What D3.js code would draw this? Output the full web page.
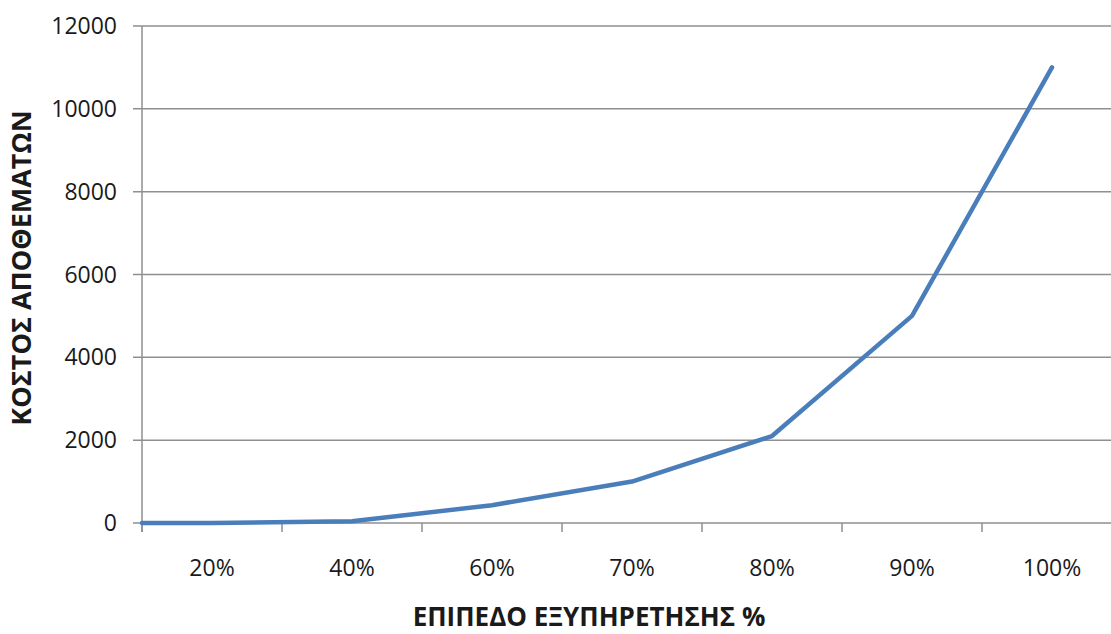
<!DOCTYPE html>
<html>
<head>
<meta charset="utf-8">
<script src="https://cdn.jsdelivr.net/npm/d3@7"></script>
<style>
  html, body { margin: 0; padding: 0; background: #fff; }
  svg { display: block; }
  text { font-family: "Open Sans", sans-serif; fill: #1a1a1a; }
</style>
</head>
<body>
<svg id="chart" width="1111" height="634"></svg>
<script>
// Service level categories and corresponding inventory cost
const categories = ["20%", "40%", "60%", "70%", "80%", "90%", "100%"];
const costValues = [0, 40, 430, 1000, 2100, 5000, 11000];
const yTicks = [0, 2000, 4000, 6000, 8000, 10000, 12000];
const xTitle = "ΕΠΙΠΕΔΟ ΕΞΥΠΗΡΕΤΗΣΗΣ %";
const yTitle = "ΚΟΣΤΟΣ ΑΠΟΘΕΜΑΤΩΝ";

const svg = d3.select("#chart");
const plot = { left: 142, right: 1122, top: 26, bottom: 523 };

const x = d3.scaleBand().domain(categories).range([plot.left, plot.right]);
const y = d3.scaleLinear().domain([0, 12000]).range([plot.bottom, plot.top]);

// horizontal gridlines
svg.append("g")
  .selectAll("line")
  .data(yTicks)
  .join("line")
  .attr("x1", plot.left - 9)
  .attr("x2", plot.right)
  .attr("y1", d => y(d))
  .attr("y2", d => y(d))
  .attr("stroke", "#8f8f8f")
  .attr("stroke-width", 1.5);

// y axis line
svg.append("line")
  .attr("x1", plot.left).attr("x2", plot.left)
  .attr("y1", plot.top).attr("y2", plot.bottom + 9)
  .attr("stroke", "#8f8f8f").attr("stroke-width", 1.5);

// y tick labels
svg.append("g")
  .selectAll("text")
  .data(yTicks)
  .join("text")
  .attr("x", 117)
  .attr("y", d => y(d))
  .attr("dy", "0.35em")
  .attr("text-anchor", "end")
  .attr("font-size", 23)
  .text(d => d);

// x axis ticks at category boundaries
const boundaries = categories.map(c => x(c));
svg.append("g")
  .selectAll("line")
  .data(boundaries)
  .join("line")
  .attr("x1", d => d).attr("x2", d => d)
  .attr("y1", plot.bottom).attr("y2", plot.bottom + 9)
  .attr("stroke", "#8f8f8f").attr("stroke-width", 1.5);

// x tick labels
svg.append("g")
  .selectAll("text")
  .data(categories)
  .join("text")
  .attr("x", d => x(d) + x.bandwidth() / 2)
  .attr("y", 568)
  .attr("dy", "0.35em")
  .attr("text-anchor", "middle")
  .attr("font-size", 23)
  .text(d => d);

// cost curve: starts at the value axis, then through each category centre
const pts = [[plot.left, y(costValues[0])]].concat(
  categories.map((c, i) => [x(c) + x.bandwidth() / 2, y(costValues[i])])
);
svg.append("path")
  .attr("d", d3.line()(pts))
  .attr("fill", "none")
  .attr("stroke", "#4a7ebb")
  .attr("stroke-width", 4.5)
  .attr("stroke-linejoin", "round")
  .attr("stroke-linecap", "round");

// axis titles
svg.append("text")
  .attr("x", 589).attr("y", 617)
  .attr("dy", "0.35em")
  .attr("text-anchor", "middle")
  .attr("font-size", 26)
  .attr("font-weight", "bold")
  .text(xTitle);

svg.append("text")
  .attr("transform", "translate(22,268) rotate(-90)")
  .attr("dy", "0.35em")
  .attr("text-anchor", "middle")
  .attr("font-size", 27)
  .attr("font-weight", "bold")
  .text(yTitle);
</script>
</body>
</html>
